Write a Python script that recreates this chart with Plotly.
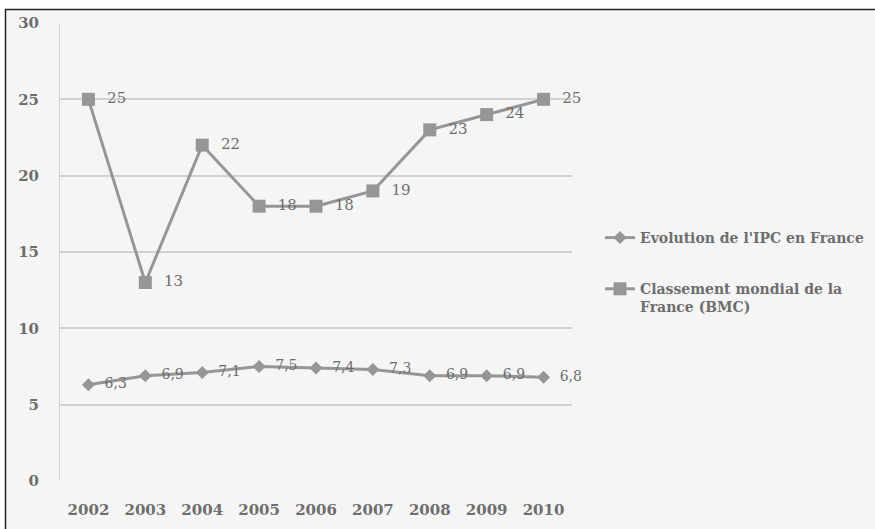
import plotly.graph_objects as go

years = ["2002", "2003", "2004", "2005", "2006", "2007", "2008", "2009", "2010"]
ipc = [6.3, 6.9, 7.1, 7.5, 7.4, 7.3, 6.9, 6.9, 6.8]
bmc = [25, 13, 22, 18, 18, 19, 23, 24, 25]
y_ticks = [0, 5, 10, 15, 20, 25, 30]

FONT = "DejaVu Serif"
LINE = "#969696"
TEXT = "#6e6e6e"
PAD = "\u00a0\u00a0"


def fr(v):
    return f"{v:g}".replace(".", ",")


fig = go.Figure()
fig.add_trace(go.Scatter(
    x=years, y=ipc, mode="lines+markers+text",
    name="Evolution de l'IPC en France",
    line=dict(color=LINE, width=3),
    marker=dict(symbol="diamond", size=10, color=LINE),
    text=[PAD + fr(v) for v in ipc], textposition="middle right",
    textfont=dict(family=FONT, size=14, color=TEXT),
    legendgroup="a", cliponaxis=False,
))
fig.add_trace(go.Scatter(
    x=years, y=bmc, mode="lines+markers+text",
    name="Classement mondial de la<br>France (BMC)",
    line=dict(color=LINE, width=3),
    marker=dict(symbol="square", size=13, color=LINE),
    text=[PAD + fr(v) for v in bmc], textposition="middle right",
    textfont=dict(family=FONT, size=15, color=TEXT),
    legendgroup="b", cliponaxis=False,
))

W, H = 875, 529
L, R, T, B = 60, 303, 23, 48
pw, ph = W - L - R, H - T - B


def px_x(p):
    return (p - L) / pw


def px_y(p):
    return (H - B - p) / ph


# outer frame of the chart area
fig.add_shape(type="rect", xref="paper", yref="paper",
              x0=px_x(5.5), x1=px_x(900), y0=px_y(560), y1=px_y(9.5),
              line=dict(color="#222222", width=1.5),
              fillcolor="#f5f5f5", layer="below")

fig.update_layout(
    width=W, height=H,
    margin=dict(l=L, r=R, t=T, b=B, autoexpand=False),
    paper_bgcolor="white",
    plot_bgcolor="rgba(0,0,0,0)",
    font=dict(family=FONT, color=TEXT),
    showlegend=True,
    legend=dict(
        x=px_x(600), xanchor="left",
        y=px_y(222), yanchor="top",
        bgcolor="rgba(0,0,0,0)",
        font=dict(family=FONT, size=14, color=TEXT, weight=700),
        traceorder="grouped", tracegroupgap=30,
        valign="top",
    ),
    xaxis=dict(
        type="category", range=[-0.5, 8.5],
        showgrid=False, showline=False, zeroline=False,
        ticks="", ticklabelstandoff=18,
        tickfont=dict(family=FONT, size=15, color=TEXT, weight=700),
    ),
    yaxis=dict(
        range=[0, 30], tickvals=y_ticks,
        showgrid=True, gridcolor="#d2d2d2", gridwidth=1.5,
        zeroline=False, showline=True, linecolor="#d6d6d6", linewidth=1,
        ticks="", ticklabelstandoff=17,
        tickfont=dict(family=FONT, size=15, color=TEXT, weight=700),
    ),
)

fig.write_html("out.html")
